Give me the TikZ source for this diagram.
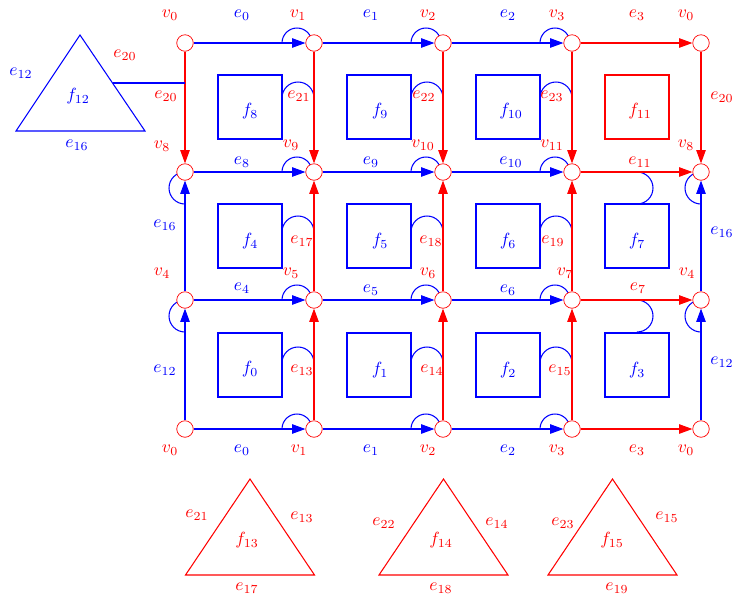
\documentclass[tikz,border=0pt]{standalone}
\usepackage{amsmath, amssymb}
\usepackage{tikz}
\usetikzlibrary{arrows.meta}

\begin{document}
\begin{tikzpicture}[x=0.02cm, y=-0.02cm,
    vtx/.style={circle, draw=red, fill=white, inner sep=0pt, minimum size=0.33cm},
    face/.style={draw=blue, line width=0.6pt, minimum size=1.28cm, inner sep=0pt},
    bedge/.style={blue, line width=0.6pt, -{Triangle[length=7.6pt, width=5.4pt]}},
    redge/.style={red, line width=0.6pt, -{Triangle[length=7.6pt, width=5.4pt]}},
    hook/.style={blue, line width=0.6pt}]
    \useasboundingbox (0,0) rectangle (737,596);

    % Hooks before the vertices on the blue edges
    \foreach \x in {314,443,572}
      \foreach \y in {43,172,300,429}
        \draw[hook] (\x-32,\y) arc[start angle=180, end angle=0, radius=0.3cm];
    \foreach \x in {185,701}
      \foreach \y in {172,300}
        \draw[hook] (\x,\y+32) arc[start angle=270, end angle=90, radius=0.32cm];

    % Hooks from the faces onto the red edges
    \foreach \x in {314,443,572}
      \foreach \y in {98,232,363}
        \draw[hook] (\x-32,\y) arc[start angle=180, end angle=0, radius=0.32cm];
    \foreach \y in {172,300}
      \draw[hook] (637,\y) arc[start angle=90, end angle=-90, radius=0.32cm];

    % Vertices
    \foreach \c/\x in {0/185,1/314,2/443,3/572,4/701}
      \foreach \r/\y in {0/43,1/172,2/300,3/429}
        \node[vtx] (n\c\r) at (\x,\y) {};

    % Horizontal edges
    \foreach \r in {0,...,3} {
      \draw[bedge] (n0\r) -- (n1\r);
      \draw[bedge] (n1\r) -- (n2\r);
      \draw[bedge] (n2\r) -- (n3\r);
      \draw[redge] (n3\r) -- (n4\r);
    }
    % Vertical edges
    \foreach \c in {1,2,3} {
      \draw[redge] (n\c0) -- (n\c1);
      \draw[redge] (n\c2) -- (n\c1);
      \draw[redge] (n\c3) -- (n\c2);
    }
    \foreach \c in {0,4} {
      \draw[redge] (n\c0) -- (n\c1);
      \draw[bedge] (n\c2) -- (n\c1);
      \draw[bedge] (n\c3) -- (n\c2);
    }

    % Square faces
    \foreach \i/\x/\y in {0/250/365, 1/379/365, 2/508/365, 3/637/365,
                          4/250/236, 5/379/236, 6/508/236, 7/637/236,
                          8/250/107, 9/379/107, 10/508/107}
      \node[face] (s\i) at (\x,\y) {};
    \node[face, draw=red] (s11) at (637,107) {};

    % Triangle faces
    \coordinate (t12a) at (80,35);
    \coordinate (t12b) at (145,131);
    \coordinate (t12c) at (16,131);
    \draw[blue, line width=0.6pt] (t12a) -- (t12b) -- (t12c) -- cycle;
    \coordinate (m12) at (112.5,83);
    \coordinate (m20) at (185,83);
    \draw[blue, line width=0.6pt] (m12) -- (m20);
    \foreach \k/\x in {13/250,14/443.5,15/612.5} {
      \coordinate (t\k a) at (\x,479);
      \coordinate (t\k b) at (\x+64.5,575);
      \coordinate (t\k c) at (\x-64.5,575);
      \draw[red, line width=0.6pt] (t\k a) -- (t\k b) -- (t\k c) -- cycle;
    }

    % Red labels
    \foreach \x/\y/\t [count=\i] in {
        170/15/v_0, 298/15/v_1, 428/15/v_2, 557/15/v_3, 686/15/v_0,
        162/146/v_8, 291/145/v_9, 423/145/v_{10}, 552/145/v_{11}, 686/145/v_8,
        162/273/v_4, 291/273/v_5, 428/273/v_6, 565/273/v_7, 687/273/v_4,
        170/450/v_0, 299/450/v_1, 428/450/v_2, 557/450/v_3, 686/450/v_0,
        637/15/e_3, 640/162/e_{11}, 638/288/e_7, 637/450/e_3,
        166/96/e_{20}, 722/97/e_{20}, 125/55/e_{20},
        299/96/e_{21}, 424/96/e_{22}, 552/96/e_{23},
        302/241/e_{17}, 431/241/e_{18}, 553/241/e_{19},
        302/370/e_{13}, 432/370/e_{14}, 560/370/e_{15},
        640/111/f_{11},
        197/515/e_{21}, 302/517/e_{13}, 247/540/f_{13}, 247/588/e_{17},
        384/523/e_{22}, 497/523/e_{14}, 441/540/f_{14}, 441/588/e_{18},
        563/523/e_{23}, 667/517/e_{15}, 612/540/f_{15}, 617/588/e_{19}}
      \node[red] (lr\i) at (\x,\y) {$\t$};

    % Blue labels
    \foreach \x/\y/\t [count=\i] in {
        242/15/e_0, 371/15/e_1, 508/15/e_2,
        242/162/e_8, 371/162/e_9, 511/162/e_{10},
        242/288/e_4, 371/290/e_5, 508/290/e_6,
        242/450/e_0, 371/450/e_1, 508/450/e_2,
        165/225/e_{16}, 165/370/e_{12}, 722/232/e_{16}, 722/362/e_{12},
        21/73/e_{12}, 77/145/e_{16}, 78/96/f_{12},
        250/111/f_8, 380/111/f_9, 511/111/f_{10},
        250/241/f_4, 380/241/f_5, 508/241/f_6, 637/241/f_7,
        250/369/f_0, 380/370/f_1, 508/370/f_2, 637/370/f_3}
      \node[blue] (lb\i) at (\x,\y) {$\t$};
\end{tikzpicture}
\end{document}
